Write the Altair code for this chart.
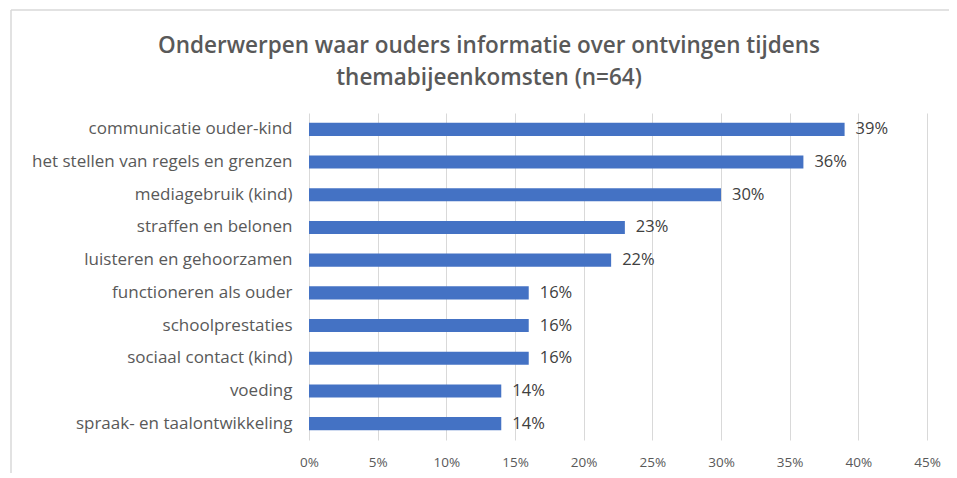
import altair as alt
import pandas as pd

title_lines = [
    "Onderwerpen waar ouders informatie over ontvingen tijdens",
    "themabijeenkomsten (n=64)",
]
categories = [
    "communicatie ouder-kind",
    "het stellen van regels en grenzen",
    "mediagebruik (kind)",
    "straffen en belonen",
    "luisteren en gehoorzamen",
    "functioneren als ouder",
    "schoolprestaties ",
    "sociaal contact (kind)",
    "voeding",
    "spraak- en taalontwikkeling",
]
values = [0.39, 0.36, 0.30, 0.23, 0.22, 0.16, 0.16, 0.16, 0.14, 0.14]
x_ticks = [0, 0.05, 0.10, 0.15, 0.20, 0.25, 0.30, 0.35, 0.40, 0.45]

df = pd.DataFrame({"onderwerp": categories, "aandeel": values})
one = pd.DataFrame({"r": [0]})

FONT = "Open Sans"
GRAY = "#595959"
BLUE = "#4472C4"

y_enc = alt.Y(
    "onderwerp:N",
    sort=categories,
    title=None,
    scale=alt.Scale(paddingInner=0.6, paddingOuter=0.3),
    axis=alt.Axis(
        ticks=False, domain=False, labelPadding=17, labelFontSize=17,
        labelColor=GRAY, labelFont=FONT, labelLimit=400,
    ),
)
x_enc = alt.X(
    "aandeel:Q",
    title=None,
    scale=alt.Scale(domain=[0, 0.45], nice=False),
    axis=alt.Axis(
        values=x_ticks, format=".0%", ticks=False, domain=False, labelFlush=False,
        grid=True, gridColor="#D9D9D9", gridWidth=1,
        labelPadding=15, labelFontSize=13.5, labelColor=GRAY, labelFont=FONT,
    ),
)

bars = alt.Chart(df).mark_bar(color=BLUE).encode(x=x_enc, y=y_enc)
labels = alt.Chart(df).mark_text(
    align="left", baseline="middle", dx=11, fontSize=16.5, color="#404040", font=FONT
).encode(x="aandeel:Q", y=alt.Y("onderwerp:N", sort=categories), text=alt.Text("aandeel:Q", format=".0%"))

border_left = alt.Chart(one).mark_rule(color="#D9D9D9", strokeWidth=1.5).encode(
    x=alt.value(-298), y=alt.value(-103), y2=alt.value(360)
)
border_top = alt.Chart(one).mark_rule(color="#D9D9D9", strokeWidth=1.5).encode(
    x=alt.value(-298), x2=alt.value(660), y=alt.value(-103)
)

title_style = dict(align="center", baseline="middle", font=FONT, fontSize=22.5,
                   fontWeight=600, color=GRAY)
title1 = alt.Chart(one).mark_text(text=title_lines[0], **title_style).encode(
    x=alt.value(180), y=alt.value(-67)
)
title2 = alt.Chart(one).mark_text(text=title_lines[1], **title_style).encode(
    x=alt.value(180), y=alt.value(-35)
)

chart = (
    alt.layer(border_left, border_top, title1, title2, bars, labels)
    .properties(
        width=618,
        height=327,
        autosize=alt.AutoSizeParams(type="none"),
        padding={"left": 301, "top": 105, "right": 22, "bottom": 33},
    )
    .configure_view(stroke=None)
)

chart.save("out.html", embed_options={"renderer": "svg", "actions": False})
